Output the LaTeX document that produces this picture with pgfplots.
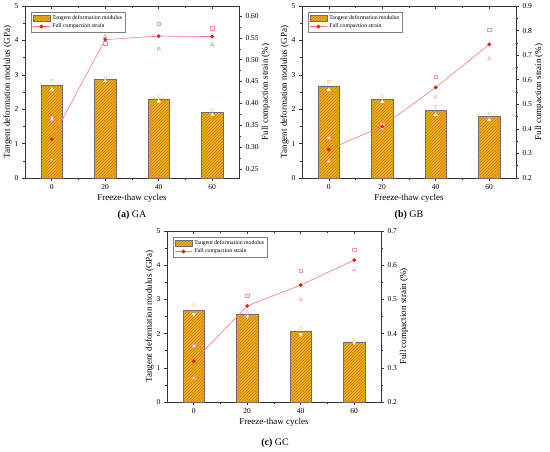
\documentclass[border=0pt]{standalone}
\usepackage{fontspec}
\setmainfont{Liberation Serif}
\usepackage{pgfplots}
\pgfplotsset{compat=1.18}
\usetikzlibrary{patterns}
\definecolor{barfill}{RGB}{245,175,20}
\definecolor{hatch}{RGB}{185,125,15}
\definecolor{baredge}{RGB}{110,110,110}
\definecolor{linered}{RGB}{255,120,120}
\definecolor{markred}{RGB}{230,25,25}
\definecolor{pinksq}{RGB}{245,150,170}
\definecolor{graytri}{RGB}{150,150,150}
\definecolor{orangetri}{RGB}{245,200,120}
\definecolor{whitetri}{RGB}{250,245,240}
\pgfplotsset{
  base/.style={scale only axis, width=214pt, height=172pt, anchor=south west,
    xmin=-10, xmax=70, ymin=0, ymax=5,
    /pgf/number format/assume math mode=true,
    tick label style={font=\fontsize{7.5}{8.5}\selectfont},
    label style={font=\fontsize{9}{10.5}\selectfont},
    axis line style={draw=black!80, line width=0.6pt},
    tick style={black!80, line width=0.5pt},
    major tick length=3pt, minor tick length=1.7pt},
  leftax/.style={base, xtick={0,20,40,60}, ytick={0,1,2,3,4,5}, minor ytick={0.5,1.5,...,4.5},
    minor xtick={10,30,50}, tick align=outside, xtick pos=bottom, ytick pos=left,
    xlabel={Freeze-thaw cycles}, ylabel={Tangent deformation modulus (GPa)},
    xlabel style={yshift=2pt}, ylabel style={yshift=-4pt}},
  topax/.style={base, axis x line*=top, axis y line=none, xtick={0,20,40,60}, minor xtick={10,30,50},
    xticklabels={}, tick align=inside},
  rightax/.style={base, axis x line=none, axis y line*=right, tick align=outside,
    ylabel={Full compaction strain (\%)}, ylabel style={yshift=4pt},
    legend style={at={(0.03,0.965)}, anchor=north west, font=\fontsize{5.8}{6.8}\selectfont,
      draw=black!50, line width=0.4pt, inner sep=1pt, row sep=-1pt,
      cells={anchor=west}}, legend cell align=left},
  bars/.style={ybar, bar width=8, draw=baredge, line width=0.5pt, fill=barfill,
    postaction={pattern=north east lines, pattern color=hatch}},
  modA/.style={only marks, mark=triangle, mark options={draw=orangetri, fill=white, rotate=180}, mark size=2pt},
  modB/.style={only marks, mark=triangle*, mark options={draw=whitetri, fill=white}, mark size=2pt},
  modAup/.style={only marks, mark=triangle, mark options={draw=orangetri, fill=white}, mark size=2pt},
  modBdn/.style={only marks, mark=triangle*, mark options={draw=whitetri, fill=white, rotate=180}, mark size=2pt},
  strsq/.style={only marks, mark=square*, mark options={draw=pinksq, fill=white}, mark size=1.6pt},
  strtri/.style={only marks, mark=triangle*, mark options={draw=#1, fill=white}, mark size=2pt},
  strline/.style={color=linered, line width=0.6pt, mark=*, mark size=1.6pt,
    mark options={draw=markred, fill=markred}},
}
\begin{document}
\begin{tikzpicture}
\path[use as bounding box] (0,0) rectangle (550pt,451pt);
% ================= (a) GA =================
\begin{axis}[leftax, at={(25pt,273pt)}]
\addplot[bars] coordinates {(0,2.70) (20,2.87) (40,2.30) (60,1.90)};
\addplot[modA] coordinates {(0,2.83) (20,2.92) (40,2.37) (60,1.98)};
\addplot[modB] coordinates {(0,2.57) (20,2.82) (40,2.23) (60,1.84)};
\end{axis}
\begin{axis}[topax, at={(25pt,273pt)}]
\end{axis}
\begin{axis}[rightax, at={(25pt,273pt)}, ymin=0.229, ymax=0.623,
  ytick={0.25,0.30,...,0.601}, minor ytick={0.275,0.325,...,0.6},
  yticklabel style={/pgf/number format/.cd, fixed, fixed zerofill, precision=2}]
\addlegendimage{area legend, draw=baredge, fill=barfill, postaction={pattern=north east lines, pattern color=hatch}}
\addlegendentry{Tangent deformation modulus}
\addplot[strsq, forget plot] coordinates {(0,0.366) (20,0.538) (40,0.583) (60,0.572)};
\addplot[strtri=graytri, forget plot] coordinates {(0,0.271) (20,0.553) (40,0.525) (60,0.534)};
\addplot[strline] coordinates {(0,0.318) (20,0.546) (40,0.554) (60,0.553)};
\addlegendentry{Full compaction strain}
\end{axis}
% ================= (b) GB =================
\begin{axis}[leftax, at={(302pt,273pt)}]
\addplot[bars] coordinates {(0,2.68) (20,2.29) (40,1.96) (60,1.79)};
\addplot[modA] coordinates {(0,2.81) (40,2.08) (60,1.89)};
\addplot[modAup] coordinates {(20,2.37)};
\addplot[modB] coordinates {(0,2.56) (20,2.22) (40,1.84) (60,1.69)};
\end{axis}
\begin{axis}[topax, at={(302pt,273pt)}]
\end{axis}
\begin{axis}[rightax, at={(302pt,273pt)}, ymin=0.2, ymax=0.9,
  ytick={0.2,0.3,...,0.91}, minor ytick={0.25,0.35,...,0.86},
  yticklabel style={/pgf/number format/.cd, fixed, fixed zerofill, precision=1}]
\addlegendimage{area legend, draw=baredge, fill=barfill, postaction={pattern=north east lines, pattern color=hatch}}
\addlegendentry{Tangent deformation modulus}
\addplot[strsq, forget plot] coordinates {(0,0.365) (20,0.418) (40,0.613) (60,0.802)};
\addplot[strtri=pinksq, forget plot] coordinates {(0,0.268) (20,0.402) (40,0.529) (60,0.687)};
\addplot[strline] coordinates {(0,0.316) (20,0.410) (40,0.569) (60,0.744)};
\addlegendentry{Full compaction strain}
\end{axis}
% ================= (c) GC =================
\begin{axis}[leftax, at={(167pt,49pt)}, height=171pt]
\addplot[bars] coordinates {(0,2.69) (20,2.57) (40,2.06) (60,1.76)};
\addplot[modAup] coordinates {(0,2.83) (20,2.63) (40,2.16) (60,1.82)};
\addplot[modBdn] coordinates {(0,2.57) (20,2.50) (40,1.98) (60,1.74)};
\end{axis}
\begin{axis}[topax, at={(167pt,49pt)}, height=171pt]
\end{axis}
\begin{axis}[rightax, at={(167pt,49pt)}, height=171pt, ymin=0.2, ymax=0.7,
  ytick={0.2,0.3,...,0.71}, minor ytick={0.25,0.35,...,0.66},
  yticklabel style={/pgf/number format/.cd, fixed, fixed zerofill, precision=1}]
\addlegendimage{area legend, draw=baredge, fill=barfill, postaction={pattern=north east lines, pattern color=hatch}}
\addlegendentry{Tangent deformation modulus}
\addplot[strsq, forget plot] coordinates {(0,0.365) (20,0.511) (40,0.584) (60,0.645)};
\addplot[strtri=pinksq, forget plot] coordinates {(0,0.270) (20,0.451) (40,0.500) (60,0.587)};
\addplot[strline] coordinates {(0,0.319) (20,0.481) (40,0.542) (60,0.615)};
\addlegendentry{Full compaction strain}
\end{axis}
% ================= captions =================
\node[font=\fontsize{10}{12}\selectfont] at (132pt,236pt) {\textbf{(a)} GA};
\node[font=\fontsize{10}{12}\selectfont] at (409pt,236pt) {\textbf{(b)} GB};
\node[font=\fontsize{10}{12}\selectfont] at (275pt,8pt) {\textbf{(c)} GC};
\end{tikzpicture}
\end{document}
